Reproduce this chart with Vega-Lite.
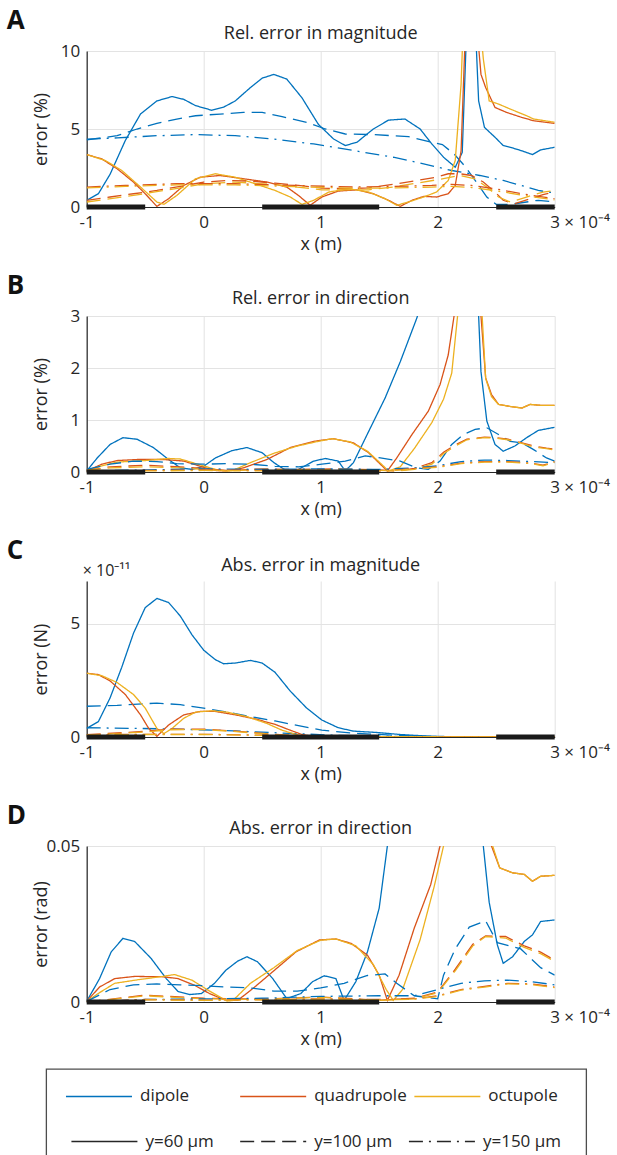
{
"$schema": "https://vega.github.io/schema/vega-lite/v6.json",
"padding": {"left": 6, "top": 8, "right": 0, "bottom": 0},
"align": "each",
"center": true,
"spacing": 20,
"datasets": {
"electrodes": [{"x0": -1, "x1": -0.5}, {"x0": 0.5, "x1": 1.5}, {"x0": 2.5, "x1": 3}],
"legendModels": [{"m": "dipole"}, {"m": "quadrupole"}, {"m": "octupole"}],
"legendDepths": [{"d": "60", "label": "y=60 µm"}, {"d": "100", "label": "y=100 µm"}, {"d": "150", "label": "y=150 µm"}],
"A": [
{"m":"dipole","d":"60","x":-1,"v":0.43},{"m":"dipole","d":"60","x":-0.9,"v":0.85},{"m":"dipole","d":"60","x":-0.8,"v":2.1},{"m":"dipole","d":"60","x":-0.67,"v":4.26},{"m":"dipole","d":"60","x":-0.54,"v":5.96},{"m":"dipole","d":"60","x":-0.4,"v":6.8},{"m":"dipole","d":"60","x":-0.27,"v":7.08},{"m":"dipole","d":"60","x":-0.17,"v":6.9},{"m":"dipole","d":"60","x":-0.07,"v":6.5},{"m":"dipole","d":"60","x":0.07,"v":6.2},{"m":"dipole","d":"60","x":0.17,"v":6.4},{"m":"dipole","d":"60","x":0.27,"v":6.8},{"m":"dipole","d":"60","x":0.4,"v":7.66},{"m":"dipole","d":"60","x":0.5,"v":8.26},{"m":"dipole","d":"60","x":0.6,"v":8.5},{"m":"dipole","d":"60","x":0.71,"v":8.2},{"m":"dipole","d":"60","x":0.84,"v":7.0},{"m":"dipole","d":"60","x":0.98,"v":5.3},{"m":"dipole","d":"60","x":1.11,"v":4.36},{"m":"dipole","d":"60","x":1.21,"v":3.94},{"m":"dipole","d":"60","x":1.31,"v":4.15},{"m":"dipole","d":"60","x":1.45,"v":5.0},{"m":"dipole","d":"60","x":1.58,"v":5.57},{"m":"dipole","d":"60","x":1.72,"v":5.64},{"m":"dipole","d":"60","x":1.85,"v":5.0},{"m":"dipole","d":"60","x":1.95,"v":4.04},{"m":"dipole","d":"60","x":2.05,"v":3.19},{"m":"dipole","d":"60","x":2.15,"v":2.55},{"m":"dipole","d":"60","x":2.21,"v":3.5},{"m":"dipole","d":"60","x":2.25,"v":12},{"m":"dipole","d":"60","x":2.32,"v":12},{"m":"dipole","d":"60","x":2.35,"v":6.8},{"m":"dipole","d":"60","x":2.4,"v":5.1},{"m":"dipole","d":"60","x":2.49,"v":4.47},{"m":"dipole","d":"60","x":2.56,"v":3.94},{"m":"dipole","d":"60","x":2.62,"v":3.83},{"m":"dipole","d":"60","x":2.72,"v":3.6},{"m":"dipole","d":"60","x":2.81,"v":3.36},{"m":"dipole","d":"60","x":2.88,"v":3.66},{"m":"dipole","d":"60","x":3,"v":3.83},
{"m":"dipole","d":"100","x":-1,"v":4.3},{"m":"dipole","d":"100","x":-0.74,"v":4.57},{"m":"dipole","d":"100","x":-0.57,"v":5.0},{"m":"dipole","d":"100","x":-0.4,"v":5.36},{"m":"dipole","d":"100","x":-0.23,"v":5.64},{"m":"dipole","d":"100","x":-0.07,"v":5.85},{"m":"dipole","d":"100","x":0.14,"v":5.96},{"m":"dipole","d":"100","x":0.34,"v":6.06},{"m":"dipole","d":"100","x":0.5,"v":6.06},{"m":"dipole","d":"100","x":0.67,"v":5.79},{"m":"dipole","d":"100","x":0.88,"v":5.43},{"m":"dipole","d":"100","x":1.04,"v":5.0},{"m":"dipole","d":"100","x":1.21,"v":4.68},{"m":"dipole","d":"100","x":1.45,"v":4.64},{"m":"dipole","d":"100","x":1.75,"v":4.51},{"m":"dipole","d":"100","x":1.95,"v":4.15},{"m":"dipole","d":"100","x":2.04,"v":4.0},{"m":"dipole","d":"100","x":2.14,"v":3.4},{"m":"dipole","d":"100","x":2.24,"v":2.55},{"m":"dipole","d":"100","x":2.32,"v":1.7},{"m":"dipole","d":"100","x":2.42,"v":0.64},{"m":"dipole","d":"100","x":2.5,"v":0.17},{"m":"dipole","d":"100","x":2.62,"v":0.17},{"m":"dipole","d":"100","x":2.76,"v":0.32},{"m":"dipole","d":"100","x":2.86,"v":0.43},{"m":"dipole","d":"100","x":3,"v":0.32},
{"m":"dipole","d":"150","x":-1,"v":4.35},{"m":"dipole","d":"150","x":-0.74,"v":4.43},{"m":"dipole","d":"150","x":-0.4,"v":4.57},{"m":"dipole","d":"150","x":-0.07,"v":4.64},{"m":"dipole","d":"150","x":0.27,"v":4.57},{"m":"dipole","d":"150","x":0.6,"v":4.36},{"m":"dipole","d":"150","x":0.94,"v":4.04},{"m":"dipole","d":"150","x":1.28,"v":3.62},{"m":"dipole","d":"150","x":1.62,"v":3.19},{"m":"dipole","d":"150","x":1.88,"v":2.77},{"m":"dipole","d":"150","x":2.12,"v":2.34},{"m":"dipole","d":"150","x":2.36,"v":2.02},{"m":"dipole","d":"150","x":2.56,"v":1.7},{"m":"dipole","d":"150","x":2.76,"v":1.28},{"m":"dipole","d":"150","x":2.86,"v":1.06},{"m":"dipole","d":"150","x":2.95,"v":0.95},{"m":"dipole","d":"150","x":3,"v":0.9},
{"m":"quadrupole","d":"60","x":-1,"v":3.36},{"m":"quadrupole","d":"60","x":-0.87,"v":3.08},{"m":"quadrupole","d":"60","x":-0.74,"v":2.45},{"m":"quadrupole","d":"60","x":-0.6,"v":1.6},{"m":"quadrupole","d":"60","x":-0.5,"v":0.85},{"m":"quadrupole","d":"60","x":-0.4,"v":0.04},{"m":"quadrupole","d":"60","x":-0.3,"v":0.53},{"m":"quadrupole","d":"60","x":-0.17,"v":1.38},{"m":"quadrupole","d":"60","x":-0.03,"v":1.91},{"m":"quadrupole","d":"60","x":0.14,"v":2.02},{"m":"quadrupole","d":"60","x":0.34,"v":1.81},{"m":"quadrupole","d":"60","x":0.54,"v":1.6},{"m":"quadrupole","d":"60","x":0.71,"v":1.28},{"m":"quadrupole","d":"60","x":0.81,"v":0.74},{"m":"quadrupole","d":"60","x":0.91,"v":0.11},{"m":"quadrupole","d":"60","x":1.01,"v":0.64},{"m":"quadrupole","d":"60","x":1.15,"v":1.02},{"m":"quadrupole","d":"60","x":1.31,"v":1.1},{"m":"quadrupole","d":"60","x":1.45,"v":0.85},{"m":"quadrupole","d":"60","x":1.58,"v":0.43},{"m":"quadrupole","d":"60","x":1.68,"v":0.04},{"m":"quadrupole","d":"60","x":1.78,"v":0.43},{"m":"quadrupole","d":"60","x":1.88,"v":0.68},{"m":"quadrupole","d":"60","x":1.99,"v":0.64},{"m":"quadrupole","d":"60","x":2.09,"v":0.85},{"m":"quadrupole","d":"60","x":2.15,"v":1.38},{"m":"quadrupole","d":"60","x":2.2,"v":3.6},{"m":"quadrupole","d":"60","x":2.24,"v":12},{"m":"quadrupole","d":"60","x":2.33,"v":12},{"m":"quadrupole","d":"60","x":2.37,"v":8.5},{"m":"quadrupole","d":"60","x":2.41,"v":7.66},{"m":"quadrupole","d":"60","x":2.49,"v":6.38},{"m":"quadrupole","d":"60","x":2.59,"v":6.06},{"m":"quadrupole","d":"60","x":2.72,"v":5.74},{"m":"quadrupole","d":"60","x":2.82,"v":5.53},{"m":"quadrupole","d":"60","x":3,"v":5.36},
{"m":"octupole","d":"60","x":-1,"v":3.36},{"m":"octupole","d":"60","x":-0.84,"v":2.98},{"m":"octupole","d":"60","x":-0.7,"v":2.34},{"m":"octupole","d":"60","x":-0.54,"v":1.28},{"m":"octupole","d":"60","x":-0.4,"v":0.32},{"m":"octupole","d":"60","x":-0.34,"v":0.17},{"m":"octupole","d":"60","x":-0.23,"v":0.74},{"m":"octupole","d":"60","x":-0.07,"v":1.81},{"m":"octupole","d":"60","x":0.1,"v":2.13},{"m":"octupole","d":"60","x":0.27,"v":1.91},{"m":"octupole","d":"60","x":0.44,"v":1.49},{"m":"octupole","d":"60","x":0.61,"v":1.06},{"m":"octupole","d":"60","x":0.74,"v":0.64},{"m":"octupole","d":"60","x":0.84,"v":0.17},{"m":"octupole","d":"60","x":0.94,"v":0.43},{"m":"octupole","d":"60","x":1.07,"v":0.96},{"m":"octupole","d":"60","x":1.24,"v":1.17},{"m":"octupole","d":"60","x":1.41,"v":0.96},{"m":"octupole","d":"60","x":1.55,"v":0.53},{"m":"octupole","d":"60","x":1.65,"v":0.11},{"m":"octupole","d":"60","x":1.75,"v":0.32},{"m":"octupole","d":"60","x":1.88,"v":0.64},{"m":"octupole","d":"60","x":1.99,"v":0.96},{"m":"octupole","d":"60","x":2.09,"v":1.7},{"m":"octupole","d":"60","x":2.15,"v":2.98},{"m":"octupole","d":"60","x":2.2,"v":7.87},{"m":"octupole","d":"60","x":2.22,"v":12},{"m":"octupole","d":"60","x":2.36,"v":12},{"m":"octupole","d":"60","x":2.39,"v":9.5},{"m":"octupole","d":"60","x":2.44,"v":6.8},{"m":"octupole","d":"60","x":2.52,"v":6.6},{"m":"octupole","d":"60","x":2.62,"v":6.28},{"m":"octupole","d":"60","x":2.76,"v":5.85},{"m":"octupole","d":"60","x":2.82,"v":5.64},{"m":"octupole","d":"60","x":3,"v":5.43},
{"m":"quadrupole","d":"100","x":-1,"v":0.43},{"m":"quadrupole","d":"100","x":-0.8,"v":0.64},{"m":"quadrupole","d":"100","x":-0.6,"v":0.85},{"m":"quadrupole","d":"100","x":-0.4,"v":1.06},{"m":"quadrupole","d":"100","x":-0.2,"v":1.32},{"m":"quadrupole","d":"100","x":0,"v":1.6},{"m":"quadrupole","d":"100","x":0.2,"v":1.7},{"m":"quadrupole","d":"100","x":0.4,"v":1.66},{"m":"quadrupole","d":"100","x":0.61,"v":1.53},{"m":"quadrupole","d":"100","x":0.81,"v":1.38},{"m":"quadrupole","d":"100","x":1.01,"v":1.21},{"m":"quadrupole","d":"100","x":1.21,"v":1.17},{"m":"quadrupole","d":"100","x":1.41,"v":1.23},{"m":"quadrupole","d":"100","x":1.62,"v":1.45},{"m":"quadrupole","d":"100","x":1.82,"v":1.7},{"m":"quadrupole","d":"100","x":1.99,"v":1.91},{"m":"quadrupole","d":"100","x":2.09,"v":2.13},{"m":"quadrupole","d":"100","x":2.19,"v":2.13},{"m":"quadrupole","d":"100","x":2.29,"v":2.02},{"m":"quadrupole","d":"100","x":2.39,"v":1.6},{"m":"quadrupole","d":"100","x":2.49,"v":0.96},{"m":"quadrupole","d":"100","x":2.56,"v":0.43},{"m":"quadrupole","d":"100","x":2.65,"v":0.2},{"m":"quadrupole","d":"100","x":2.79,"v":0.53},{"m":"quadrupole","d":"100","x":2.9,"v":0.8},{"m":"quadrupole","d":"100","x":3,"v":0.96},
{"m":"octupole","d":"100","x":-1,"v":0.32},{"m":"octupole","d":"100","x":-0.6,"v":0.74},{"m":"octupole","d":"100","x":-0.2,"v":1.23},{"m":"octupole","d":"100","x":0,"v":1.49},{"m":"octupole","d":"100","x":0.27,"v":1.6},{"m":"octupole","d":"100","x":0.61,"v":1.43},{"m":"octupole","d":"100","x":1.01,"v":1.1},{"m":"octupole","d":"100","x":1.41,"v":1.1},{"m":"octupole","d":"100","x":1.62,"v":1.28},{"m":"octupole","d":"100","x":1.82,"v":1.53},{"m":"octupole","d":"100","x":1.99,"v":1.74},{"m":"octupole","d":"100","x":2.19,"v":2.02},{"m":"octupole","d":"100","x":2.32,"v":1.81},{"m":"octupole","d":"100","x":2.42,"v":1.28},{"m":"octupole","d":"100","x":2.52,"v":0.64},{"m":"octupole","d":"100","x":2.62,"v":0.32},{"m":"octupole","d":"100","x":2.76,"v":0.64},{"m":"octupole","d":"100","x":2.9,"v":0.96},{"m":"octupole","d":"100","x":3,"v":1.06},
{"m":"quadrupole","d":"150","x":-1,"v":1.28},{"m":"quadrupole","d":"150","x":-0.67,"v":1.38},{"m":"quadrupole","d":"150","x":-0.23,"v":1.49},{"m":"quadrupole","d":"150","x":0.27,"v":1.49},{"m":"quadrupole","d":"150","x":0.78,"v":1.38},{"m":"quadrupole","d":"150","x":1.28,"v":1.28},{"m":"quadrupole","d":"150","x":1.62,"v":1.32},{"m":"quadrupole","d":"150","x":1.95,"v":1.38},{"m":"quadrupole","d":"150","x":2.12,"v":1.45},{"m":"quadrupole","d":"150","x":2.29,"v":1.38},{"m":"quadrupole","d":"150","x":2.49,"v":1.17},{"m":"quadrupole","d":"150","x":2.69,"v":0.89},{"m":"quadrupole","d":"150","x":2.86,"v":0.68},{"m":"quadrupole","d":"150","x":3,"v":0.53},
{"m":"octupole","d":"150","x":-1,"v":1.22},{"m":"octupole","d":"150","x":-0.67,"v":1.32},{"m":"octupole","d":"150","x":-0.23,"v":1.42},{"m":"octupole","d":"150","x":0.27,"v":1.42},{"m":"octupole","d":"150","x":0.78,"v":1.3},{"m":"octupole","d":"150","x":1.28,"v":1.2},{"m":"octupole","d":"150","x":1.62,"v":1.22},{"m":"octupole","d":"150","x":1.95,"v":1.28},{"m":"octupole","d":"150","x":2.12,"v":1.32},{"m":"octupole","d":"150","x":2.29,"v":1.25},{"m":"octupole","d":"150","x":2.49,"v":1.05},{"m":"octupole","d":"150","x":2.69,"v":0.8},{"m":"octupole","d":"150","x":2.86,"v":0.6},{"m":"octupole","d":"150","x":3,"v":0.45}
],
"B": [
{"m":"dipole","d":"60","x":-1,"v":0.02},{"m":"dipole","d":"60","x":-0.91,"v":0.27},{"m":"dipole","d":"60","x":-0.8,"v":0.53},{"m":"dipole","d":"60","x":-0.69,"v":0.66},{"m":"dipole","d":"60","x":-0.57,"v":0.63},{"m":"dipole","d":"60","x":-0.43,"v":0.47},{"m":"dipole","d":"60","x":-0.3,"v":0.24},{"m":"dipole","d":"60","x":-0.2,"v":0.08},{"m":"dipole","d":"60","x":-0.1,"v":0.05},{"m":"dipole","d":"60","x":0,"v":0.11},{"m":"dipole","d":"60","x":0.1,"v":0.27},{"m":"dipole","d":"60","x":0.24,"v":0.41},{"m":"dipole","d":"60","x":0.37,"v":0.47},{"m":"dipole","d":"60","x":0.5,"v":0.37},{"m":"dipole","d":"60","x":0.6,"v":0.18},{"m":"dipole","d":"60","x":0.71,"v":0.02},{"m":"dipole","d":"60","x":0.81,"v":0.05},{"m":"dipole","d":"60","x":0.94,"v":0.21},{"m":"dipole","d":"60","x":1.04,"v":0.26},{"m":"dipole","d":"60","x":1.15,"v":0.21},{"m":"dipole","d":"60","x":1.21,"v":0.02},{"m":"dipole","d":"60","x":1.28,"v":0.18},{"m":"dipole","d":"60","x":1.41,"v":0.78},{"m":"dipole","d":"60","x":1.55,"v":1.42},{"m":"dipole","d":"60","x":1.68,"v":2.12},{"m":"dipole","d":"60","x":1.82,"v":2.95},{"m":"dipole","d":"60","x":2.0,"v":4.2},{"m":"dipole","d":"60","x":2.3,"v":6},{"m":"dipole","d":"60","x":2.34,"v":6},{"m":"dipole","d":"60","x":2.35,"v":3.0},{"m":"dipole","d":"60","x":2.37,"v":1.93},{"m":"dipole","d":"60","x":2.42,"v":0.98},{"m":"dipole","d":"60","x":2.49,"v":0.53},{"m":"dipole","d":"60","x":2.56,"v":0.4},{"m":"dipole","d":"60","x":2.66,"v":0.5},{"m":"dipole","d":"60","x":2.76,"v":0.66},{"m":"dipole","d":"60","x":2.86,"v":0.8},{"m":"dipole","d":"60","x":3,"v":0.86},
{"m":"quadrupole","d":"60","x":-1,"v":0.02},{"m":"quadrupole","d":"60","x":-0.87,"v":0.15},{"m":"quadrupole","d":"60","x":-0.74,"v":0.22},{"m":"quadrupole","d":"60","x":-0.57,"v":0.24},{"m":"quadrupole","d":"60","x":-0.34,"v":0.24},{"m":"quadrupole","d":"60","x":-0.17,"v":0.21},{"m":"quadrupole","d":"60","x":-0.03,"v":0.11},{"m":"quadrupole","d":"60","x":0.1,"v":0.03},{"m":"quadrupole","d":"60","x":0.2,"v":0.02},{"m":"quadrupole","d":"60","x":0.34,"v":0.08},{"m":"quadrupole","d":"60","x":0.54,"v":0.24},{"m":"quadrupole","d":"60","x":0.74,"v":0.47},{"m":"quadrupole","d":"60","x":0.94,"v":0.59},{"m":"quadrupole","d":"60","x":1.11,"v":0.64},{"m":"quadrupole","d":"60","x":1.28,"v":0.56},{"m":"quadrupole","d":"60","x":1.41,"v":0.37},{"m":"quadrupole","d":"60","x":1.51,"v":0.15},{"m":"quadrupole","d":"60","x":1.57,"v":0.02},{"m":"quadrupole","d":"60","x":1.65,"v":0.27},{"m":"quadrupole","d":"60","x":1.78,"v":0.72},{"m":"quadrupole","d":"60","x":1.92,"v":1.17},{"m":"quadrupole","d":"60","x":2.02,"v":1.68},{"m":"quadrupole","d":"60","x":2.09,"v":2.25},{"m":"quadrupole","d":"60","x":2.14,"v":3.0},{"m":"quadrupole","d":"60","x":2.18,"v":6},{"m":"quadrupole","d":"60","x":2.35,"v":6},{"m":"quadrupole","d":"60","x":2.37,"v":3.0},{"m":"quadrupole","d":"60","x":2.41,"v":1.81},{"m":"quadrupole","d":"60","x":2.46,"v":1.49},{"m":"quadrupole","d":"60","x":2.52,"v":1.3},{"m":"quadrupole","d":"60","x":2.62,"v":1.26},{"m":"quadrupole","d":"60","x":2.72,"v":1.23},{"m":"quadrupole","d":"60","x":2.79,"v":1.3},{"m":"quadrupole","d":"60","x":2.89,"v":1.28},{"m":"quadrupole","d":"60","x":3,"v":1.28},
{"m":"octupole","d":"60","x":-1,"v":0.02},{"m":"octupole","d":"60","x":-0.87,"v":0.12},{"m":"octupole","d":"60","x":-0.74,"v":0.19},{"m":"octupole","d":"60","x":-0.5,"v":0.22},{"m":"octupole","d":"60","x":-0.3,"v":0.26},{"m":"octupole","d":"60","x":-0.2,"v":0.25},{"m":"octupole","d":"60","x":-0.05,"v":0.15},{"m":"octupole","d":"60","x":0.1,"v":0.05},{"m":"octupole","d":"60","x":0.2,"v":0.02},{"m":"octupole","d":"60","x":0.25,"v":0.03},{"m":"octupole","d":"60","x":0.4,"v":0.18},{"m":"octupole","d":"60","x":0.6,"v":0.36},{"m":"octupole","d":"60","x":0.8,"v":0.5},{"m":"octupole","d":"60","x":1.0,"v":0.6},{"m":"octupole","d":"60","x":1.1,"v":0.64},{"m":"octupole","d":"60","x":1.25,"v":0.58},{"m":"octupole","d":"60","x":1.4,"v":0.4},{"m":"octupole","d":"60","x":1.52,"v":0.15},{"m":"octupole","d":"60","x":1.58,"v":0.02},{"m":"octupole","d":"60","x":1.68,"v":0.1},{"m":"octupole","d":"60","x":1.8,"v":0.45},{"m":"octupole","d":"60","x":1.95,"v":0.95},{"m":"octupole","d":"60","x":2.05,"v":1.4},{"m":"octupole","d":"60","x":2.12,"v":1.9},{"m":"octupole","d":"60","x":2.17,"v":3.0},{"m":"octupole","d":"60","x":2.2,"v":6},{"m":"octupole","d":"60","x":2.36,"v":6},{"m":"octupole","d":"60","x":2.38,"v":3.0},{"m":"octupole","d":"60","x":2.41,"v":1.8},{"m":"octupole","d":"60","x":2.46,"v":1.45},{"m":"octupole","d":"60","x":2.52,"v":1.3},{"m":"octupole","d":"60","x":2.62,"v":1.26},{"m":"octupole","d":"60","x":2.72,"v":1.23},{"m":"octupole","d":"60","x":2.79,"v":1.3},{"m":"octupole","d":"60","x":2.89,"v":1.28},{"m":"octupole","d":"60","x":3,"v":1.28},
{"m":"dipole","d":"100","x":-1,"v":0.05},{"m":"dipole","d":"100","x":-0.8,"v":0.15},{"m":"dipole","d":"100","x":-0.6,"v":0.21},{"m":"dipole","d":"100","x":-0.4,"v":0.2},{"m":"dipole","d":"100","x":-0.23,"v":0.16},{"m":"dipole","d":"100","x":0,"v":0.15},{"m":"dipole","d":"100","x":0.2,"v":0.16},{"m":"dipole","d":"100","x":0.4,"v":0.15},{"m":"dipole","d":"100","x":0.61,"v":0.11},{"m":"dipole","d":"100","x":0.81,"v":0.1},{"m":"dipole","d":"100","x":1.01,"v":0.15},{"m":"dipole","d":"100","x":1.21,"v":0.21},{"m":"dipole","d":"100","x":1.38,"v":0.31},{"m":"dipole","d":"100","x":1.51,"v":0.27},{"m":"dipole","d":"100","x":1.68,"v":0.21},{"m":"dipole","d":"100","x":1.82,"v":0.08},{"m":"dipole","d":"100","x":1.92,"v":0.05},{"m":"dipole","d":"100","x":2.02,"v":0.21},{"m":"dipole","d":"100","x":2.12,"v":0.53},{"m":"dipole","d":"100","x":2.22,"v":0.72},{"m":"dipole","d":"100","x":2.32,"v":0.82},{"m":"dipole","d":"100","x":2.42,"v":0.85},{"m":"dipole","d":"100","x":2.52,"v":0.72},{"m":"dipole","d":"100","x":2.62,"v":0.59},{"m":"dipole","d":"100","x":2.72,"v":0.56},{"m":"dipole","d":"100","x":2.82,"v":0.43},{"m":"dipole","d":"100","x":2.93,"v":0.27},{"m":"dipole","d":"100","x":3,"v":0.21},
{"m":"quadrupole","d":"100","x":-1,"v":0.03},{"m":"quadrupole","d":"100","x":-0.8,"v":0.1},{"m":"quadrupole","d":"100","x":-0.5,"v":0.13},{"m":"quadrupole","d":"100","x":-0.2,"v":0.1},{"m":"quadrupole","d":"100","x":0.2,"v":0.03},{"m":"quadrupole","d":"100","x":0.5,"v":0.06},{"m":"quadrupole","d":"100","x":0.8,"v":0.05},{"m":"quadrupole","d":"100","x":1.2,"v":0.06},{"m":"quadrupole","d":"100","x":1.5,"v":0.04},{"m":"quadrupole","d":"100","x":1.65,"v":0.02},{"m":"quadrupole","d":"100","x":1.8,"v":0.07},{"m":"quadrupole","d":"100","x":1.95,"v":0.18},{"m":"quadrupole","d":"100","x":2.05,"v":0.38},{"m":"quadrupole","d":"100","x":2.15,"v":0.52},{"m":"quadrupole","d":"100","x":2.25,"v":0.63},{"m":"quadrupole","d":"100","x":2.4,"v":0.67},{"m":"quadrupole","d":"100","x":2.5,"v":0.66},{"m":"quadrupole","d":"100","x":2.6,"v":0.63},{"m":"quadrupole","d":"100","x":2.72,"v":0.56},{"m":"quadrupole","d":"100","x":2.82,"v":0.5},{"m":"quadrupole","d":"100","x":2.93,"v":0.46},{"m":"quadrupole","d":"100","x":3,"v":0.44},
{"m":"octupole","d":"100","x":-1,"v":0.03},{"m":"octupole","d":"100","x":-0.8,"v":0.08},{"m":"octupole","d":"100","x":-0.5,"v":0.1},{"m":"octupole","d":"100","x":-0.2,"v":0.08},{"m":"octupole","d":"100","x":0.2,"v":0.02},{"m":"octupole","d":"100","x":0.5,"v":0.05},{"m":"octupole","d":"100","x":0.8,"v":0.04},{"m":"octupole","d":"100","x":1.2,"v":0.05},{"m":"octupole","d":"100","x":1.5,"v":0.03},{"m":"octupole","d":"100","x":1.65,"v":0.02},{"m":"octupole","d":"100","x":1.8,"v":0.05},{"m":"octupole","d":"100","x":1.95,"v":0.15},{"m":"octupole","d":"100","x":2.05,"v":0.35},{"m":"octupole","d":"100","x":2.15,"v":0.5},{"m":"octupole","d":"100","x":2.25,"v":0.62},{"m":"octupole","d":"100","x":2.4,"v":0.66},{"m":"octupole","d":"100","x":2.5,"v":0.65},{"m":"octupole","d":"100","x":2.6,"v":0.62},{"m":"octupole","d":"100","x":2.72,"v":0.55},{"m":"octupole","d":"100","x":2.82,"v":0.48},{"m":"octupole","d":"100","x":2.93,"v":0.45},{"m":"octupole","d":"100","x":3,"v":0.42},
{"m":"dipole","d":"150","x":-1,"v":0.02},{"m":"dipole","d":"150","x":-0.5,"v":0.04},{"m":"dipole","d":"150","x":0,"v":0.06},{"m":"dipole","d":"150","x":0.5,"v":0.05},{"m":"dipole","d":"150","x":1.0,"v":0.06},{"m":"dipole","d":"150","x":1.5,"v":0.05},{"m":"dipole","d":"150","x":1.8,"v":0.08},{"m":"dipole","d":"150","x":2.0,"v":0.12},{"m":"dipole","d":"150","x":2.2,"v":0.2},{"m":"dipole","d":"150","x":2.4,"v":0.23},{"m":"dipole","d":"150","x":2.6,"v":0.22},{"m":"dipole","d":"150","x":2.8,"v":0.2},{"m":"dipole","d":"150","x":3,"v":0.18},
{"m":"quadrupole","d":"150","x":-1,"v":0.01},{"m":"quadrupole","d":"150","x":-0.5,"v":0.03},{"m":"quadrupole","d":"150","x":0,"v":0.04},{"m":"quadrupole","d":"150","x":0.5,"v":0.03},{"m":"quadrupole","d":"150","x":1.0,"v":0.03},{"m":"quadrupole","d":"150","x":1.5,"v":0.02},{"m":"quadrupole","d":"150","x":1.7,"v":0.05},{"m":"quadrupole","d":"150","x":2.0,"v":0.1},{"m":"quadrupole","d":"150","x":2.2,"v":0.17},{"m":"quadrupole","d":"150","x":2.4,"v":0.2},{"m":"quadrupole","d":"150","x":2.6,"v":0.2},{"m":"quadrupole","d":"150","x":2.8,"v":0.17},{"m":"quadrupole","d":"150","x":2.9,"v":0.13},{"m":"quadrupole","d":"150","x":3,"v":0.2},
{"m":"octupole","d":"150","x":-1,"v":0.01},{"m":"octupole","d":"150","x":-0.5,"v":0.02},{"m":"octupole","d":"150","x":0,"v":0.03},{"m":"octupole","d":"150","x":0.5,"v":0.02},{"m":"octupole","d":"150","x":1.0,"v":0.02},{"m":"octupole","d":"150","x":1.5,"v":0.02},{"m":"octupole","d":"150","x":1.7,"v":0.04},{"m":"octupole","d":"150","x":2.0,"v":0.09},{"m":"octupole","d":"150","x":2.2,"v":0.16},{"m":"octupole","d":"150","x":2.4,"v":0.19},{"m":"octupole","d":"150","x":2.6,"v":0.19},{"m":"octupole","d":"150","x":2.8,"v":0.16},{"m":"octupole","d":"150","x":2.9,"v":0.12},{"m":"octupole","d":"150","x":3,"v":0.19}
],
"C": [
{"m":"dipole","d":"60","x":-1,"v":0.38},{"m":"dipole","d":"60","x":-0.9,"v":0.68},{"m":"dipole","d":"60","x":-0.8,"v":1.73},{"m":"dipole","d":"60","x":-0.7,"v":3.09},{"m":"dipole","d":"60","x":-0.6,"v":4.59},{"m":"dipole","d":"60","x":-0.5,"v":5.72},{"m":"dipole","d":"60","x":-0.4,"v":6.13},{"m":"dipole","d":"60","x":-0.3,"v":5.95},{"m":"dipole","d":"60","x":-0.2,"v":5.35},{"m":"dipole","d":"60","x":-0.1,"v":4.52},{"m":"dipole","d":"60","x":0,"v":3.84},{"m":"dipole","d":"60","x":0.1,"v":3.42},{"m":"dipole","d":"60","x":0.17,"v":3.24},{"m":"dipole","d":"60","x":0.27,"v":3.27},{"m":"dipole","d":"60","x":0.4,"v":3.39},{"m":"dipole","d":"60","x":0.5,"v":3.27},{"m":"dipole","d":"60","x":0.61,"v":2.86},{"m":"dipole","d":"60","x":0.74,"v":2.03},{"m":"dipole","d":"60","x":0.88,"v":1.28},{"m":"dipole","d":"60","x":1.01,"v":0.75},{"m":"dipole","d":"60","x":1.15,"v":0.41},{"m":"dipole","d":"60","x":1.28,"v":0.26},{"m":"dipole","d":"60","x":1.48,"v":0.2},{"m":"dipole","d":"60","x":1.68,"v":0.11},{"m":"dipole","d":"60","x":1.95,"v":0.03},{"m":"dipole","d":"60","x":2.3,"v":0},{"m":"dipole","d":"60","x":3,"v":0},
{"m":"dipole","d":"100","x":-1,"v":1.36},{"m":"dipole","d":"100","x":-0.74,"v":1.4},{"m":"dipole","d":"100","x":-0.4,"v":1.5},{"m":"dipole","d":"100","x":-0.2,"v":1.43},{"m":"dipole","d":"100","x":0,"v":1.28},{"m":"dipole","d":"100","x":0.2,"v":1.1},{"m":"dipole","d":"100","x":0.4,"v":0.9},{"m":"dipole","d":"100","x":0.61,"v":0.71},{"m":"dipole","d":"100","x":0.81,"v":0.5},{"m":"dipole","d":"100","x":1.01,"v":0.3},{"m":"dipole","d":"100","x":1.28,"v":0.17},{"m":"dipole","d":"100","x":1.62,"v":0.08},{"m":"dipole","d":"100","x":1.95,"v":0.02},{"m":"dipole","d":"100","x":3,"v":0},
{"m":"dipole","d":"150","x":-1,"v":0.41},{"m":"dipole","d":"150","x":-0.57,"v":0.38},{"m":"dipole","d":"150","x":-0.23,"v":0.35},{"m":"dipole","d":"150","x":0.1,"v":0.3},{"m":"dipole","d":"150","x":0.44,"v":0.23},{"m":"dipole","d":"150","x":0.78,"v":0.15},{"m":"dipole","d":"150","x":1.11,"v":0.08},{"m":"dipole","d":"150","x":1.62,"v":0.03},{"m":"dipole","d":"150","x":3,"v":0},
{"m":"quadrupole","d":"60","x":-1,"v":2.82},{"m":"quadrupole","d":"60","x":-0.9,"v":2.76},{"m":"quadrupole","d":"60","x":-0.8,"v":2.48},{"m":"quadrupole","d":"60","x":-0.67,"v":1.88},{"m":"quadrupole","d":"60","x":-0.54,"v":0.98},{"m":"quadrupole","d":"60","x":-0.47,"v":0.38},{"m":"quadrupole","d":"60","x":-0.4,"v":0.03},{"m":"quadrupole","d":"60","x":-0.3,"v":0.53},{"m":"quadrupole","d":"60","x":-0.17,"v":0.98},{"m":"quadrupole","d":"60","x":-0.03,"v":1.13},{"m":"quadrupole","d":"60","x":0.1,"v":1.13},{"m":"quadrupole","d":"60","x":0.27,"v":0.98},{"m":"quadrupole","d":"60","x":0.44,"v":0.8},{"m":"quadrupole","d":"60","x":0.61,"v":0.56},{"m":"quadrupole","d":"60","x":0.74,"v":0.3},{"m":"quadrupole","d":"60","x":0.84,"v":0.11},{"m":"quadrupole","d":"60","x":0.94,"v":0.02},{"m":"quadrupole","d":"60","x":2,"v":0},{"m":"quadrupole","d":"60","x":3,"v":0},
{"m":"octupole","d":"60","x":-1,"v":2.82},{"m":"octupole","d":"60","x":-0.87,"v":2.71},{"m":"octupole","d":"60","x":-0.74,"v":2.41},{"m":"octupole","d":"60","x":-0.6,"v":1.88},{"m":"octupole","d":"60","x":-0.5,"v":1.28},{"m":"octupole","d":"60","x":-0.4,"v":0.38},{"m":"octupole","d":"60","x":-0.34,"v":0.15},{"m":"octupole","d":"60","x":-0.27,"v":0.38},{"m":"octupole","d":"60","x":-0.17,"v":0.83},{"m":"octupole","d":"60","x":-0.07,"v":1.1},{"m":"octupole","d":"60","x":0.07,"v":1.16},{"m":"octupole","d":"60","x":0.2,"v":1.1},{"m":"octupole","d":"60","x":0.37,"v":0.9},{"m":"octupole","d":"60","x":0.54,"v":0.6},{"m":"octupole","d":"60","x":0.67,"v":0.3},{"m":"octupole","d":"60","x":0.81,"v":0.08},{"m":"octupole","d":"60","x":0.94,"v":0.02},{"m":"octupole","d":"60","x":2,"v":0.01},{"m":"octupole","d":"60","x":3,"v":0},
{"m":"quadrupole","d":"100","x":-1,"v":0.1},{"m":"quadrupole","d":"100","x":-0.5,"v":0.25},{"m":"quadrupole","d":"100","x":-0.3,"v":0.35},{"m":"quadrupole","d":"100","x":0,"v":0.35},{"m":"quadrupole","d":"100","x":0.3,"v":0.25},{"m":"quadrupole","d":"100","x":0.6,"v":0.12},{"m":"quadrupole","d":"100","x":1.0,"v":0.02},{"m":"quadrupole","d":"100","x":3,"v":0},
{"m":"octupole","d":"100","x":-1,"v":0.08},{"m":"octupole","d":"100","x":-0.5,"v":0.22},{"m":"octupole","d":"100","x":-0.3,"v":0.32},{"m":"octupole","d":"100","x":0,"v":0.33},{"m":"octupole","d":"100","x":0.3,"v":0.23},{"m":"octupole","d":"100","x":0.6,"v":0.1},{"m":"octupole","d":"100","x":1.0,"v":0.02},{"m":"octupole","d":"100","x":3,"v":0},
{"m":"quadrupole","d":"150","x":-1,"v":0.1},{"m":"quadrupole","d":"150","x":-0.5,"v":0.12},{"m":"quadrupole","d":"150","x":0,"v":0.12},{"m":"quadrupole","d":"150","x":0.5,"v":0.08},{"m":"quadrupole","d":"150","x":1.0,"v":0.02},{"m":"quadrupole","d":"150","x":3,"v":0},
{"m":"octupole","d":"150","x":-1,"v":0.09},{"m":"octupole","d":"150","x":-0.5,"v":0.11},{"m":"octupole","d":"150","x":0,"v":0.11},{"m":"octupole","d":"150","x":0.5,"v":0.07},{"m":"octupole","d":"150","x":1.0,"v":0.02},{"m":"octupole","d":"150","x":3,"v":0}
],
"D": [
{"m":"dipole","d":"60","x":-1,"v":0.0002},{"m":"dipole","d":"60","x":-0.89,"v":0.0075},{"m":"dipole","d":"60","x":-0.79,"v":0.0161},{"m":"dipole","d":"60","x":-0.69,"v":0.0204},{"m":"dipole","d":"60","x":-0.59,"v":0.0194},{"m":"dipole","d":"60","x":-0.45,"v":0.014},{"m":"dipole","d":"60","x":-0.32,"v":0.0075},{"m":"dipole","d":"60","x":-0.22,"v":0.0034},{"m":"dipole","d":"60","x":-0.12,"v":0.0024},{"m":"dipole","d":"60","x":-0.02,"v":0.0027},{"m":"dipole","d":"60","x":0.09,"v":0.0059},{"m":"dipole","d":"60","x":0.19,"v":0.0102},{"m":"dipole","d":"60","x":0.29,"v":0.0131},{"m":"dipole","d":"60","x":0.37,"v":0.0145},{"m":"dipole","d":"60","x":0.46,"v":0.0129},{"m":"dipole","d":"60","x":0.59,"v":0.0075},{"m":"dipole","d":"60","x":0.71,"v":0.0011},{"m":"dipole","d":"60","x":0.83,"v":0.0027},{"m":"dipole","d":"60","x":0.93,"v":0.0065},{"m":"dipole","d":"60","x":1.03,"v":0.0084},{"m":"dipole","d":"60","x":1.13,"v":0.0075},{"m":"dipole","d":"60","x":1.2,"v":0.0005},{"m":"dipole","d":"60","x":1.3,"v":0.0065},{"m":"dipole","d":"60","x":1.4,"v":0.0161},{"m":"dipole","d":"60","x":1.5,"v":0.0301},{"m":"dipole","d":"60","x":1.57,"v":0.05},{"m":"dipole","d":"60","x":1.65,"v":0.07},{"m":"dipole","d":"60","x":2.35,"v":0.07},{"m":"dipole","d":"60","x":2.39,"v":0.05},{"m":"dipole","d":"60","x":2.44,"v":0.032},{"m":"dipole","d":"60","x":2.51,"v":0.0183},{"m":"dipole","d":"60","x":2.56,"v":0.0124},{"m":"dipole","d":"60","x":2.64,"v":0.0145},{"m":"dipole","d":"60","x":2.74,"v":0.0194},{"m":"dipole","d":"60","x":2.81,"v":0.0215},{"m":"dipole","d":"60","x":2.88,"v":0.0258},{"m":"dipole","d":"60","x":3,"v":0.0263},
{"m":"quadrupole","d":"60","x":-1,"v":0.0002},{"m":"quadrupole","d":"60","x":-0.89,"v":0.0048},{"m":"quadrupole","d":"60","x":-0.76,"v":0.0075},{"m":"quadrupole","d":"60","x":-0.59,"v":0.0082},{"m":"quadrupole","d":"60","x":-0.35,"v":0.0081},{"m":"quadrupole","d":"60","x":-0.22,"v":0.0075},{"m":"quadrupole","d":"60","x":-0.08,"v":0.0054},{"m":"quadrupole","d":"60","x":0.05,"v":0.0027},{"m":"quadrupole","d":"60","x":0.19,"v":0.0005},{"m":"quadrupole","d":"60","x":0.29,"v":0.0005},{"m":"quadrupole","d":"60","x":0.42,"v":0.0043},{"m":"quadrupole","d":"60","x":0.59,"v":0.0097},{"m":"quadrupole","d":"60","x":0.79,"v":0.0161},{"m":"quadrupole","d":"60","x":0.99,"v":0.0199},{"m":"quadrupole","d":"60","x":1.13,"v":0.0202},{"m":"quadrupole","d":"60","x":1.26,"v":0.0188},{"m":"quadrupole","d":"60","x":1.4,"v":0.015},{"m":"quadrupole","d":"60","x":1.5,"v":0.0086},{"m":"quadrupole","d":"60","x":1.57,"v":0.0005},{"m":"quadrupole","d":"60","x":1.67,"v":0.0086},{"m":"quadrupole","d":"60","x":1.8,"v":0.0237},{"m":"quadrupole","d":"60","x":1.94,"v":0.0376},{"m":"quadrupole","d":"60","x":2.02,"v":0.05},{"m":"quadrupole","d":"60","x":2.08,"v":0.07},{"m":"quadrupole","d":"60","x":2.42,"v":0.07},{"m":"quadrupole","d":"60","x":2.46,"v":0.05},{"m":"quadrupole","d":"60","x":2.53,"v":0.043},{"m":"quadrupole","d":"60","x":2.64,"v":0.0414},{"m":"quadrupole","d":"60","x":2.74,"v":0.0409},{"m":"quadrupole","d":"60","x":2.81,"v":0.0387},{"m":"quadrupole","d":"60","x":2.88,"v":0.0403},{"m":"quadrupole","d":"60","x":3,"v":0.0406},
{"m":"octupole","d":"60","x":-1,"v":0.0002},{"m":"octupole","d":"60","x":-0.89,"v":0.003},{"m":"octupole","d":"60","x":-0.76,"v":0.006},{"m":"octupole","d":"60","x":-0.55,"v":0.0072},{"m":"octupole","d":"60","x":-0.35,"v":0.0082},{"m":"octupole","d":"60","x":-0.25,"v":0.0088},{"m":"octupole","d":"60","x":-0.1,"v":0.007},{"m":"octupole","d":"60","x":0.05,"v":0.0035},{"m":"octupole","d":"60","x":0.2,"v":0.0003},{"m":"octupole","d":"60","x":0.25,"v":0.0005},{"m":"octupole","d":"60","x":0.4,"v":0.006},{"m":"octupole","d":"60","x":0.6,"v":0.011},{"m":"octupole","d":"60","x":0.8,"v":0.0165},{"m":"octupole","d":"60","x":1.0,"v":0.0198},{"m":"octupole","d":"60","x":1.13,"v":0.0202},{"m":"octupole","d":"60","x":1.3,"v":0.018},{"m":"octupole","d":"60","x":1.45,"v":0.012},{"m":"octupole","d":"60","x":1.56,"v":0.004},{"m":"octupole","d":"60","x":1.62,"v":0.0005},{"m":"octupole","d":"60","x":1.7,"v":0.004},{"m":"octupole","d":"60","x":1.85,"v":0.02},{"m":"octupole","d":"60","x":1.97,"v":0.037},{"m":"octupole","d":"60","x":2.05,"v":0.05},{"m":"octupole","d":"60","x":2.1,"v":0.07},{"m":"octupole","d":"60","x":2.43,"v":0.07},{"m":"octupole","d":"60","x":2.47,"v":0.05},{"m":"octupole","d":"60","x":2.53,"v":0.043},{"m":"octupole","d":"60","x":2.64,"v":0.0414},{"m":"octupole","d":"60","x":2.74,"v":0.0409},{"m":"octupole","d":"60","x":2.81,"v":0.0387},{"m":"octupole","d":"60","x":2.88,"v":0.0403},{"m":"octupole","d":"60","x":3,"v":0.0406},
{"m":"dipole","d":"100","x":-1,"v":0.0002},{"m":"dipole","d":"100","x":-0.8,"v":0.004},{"m":"dipole","d":"100","x":-0.6,"v":0.0055},{"m":"dipole","d":"100","x":-0.4,"v":0.0058},{"m":"dipole","d":"100","x":-0.2,"v":0.0055},{"m":"dipole","d":"100","x":0,"v":0.0052},{"m":"dipole","d":"100","x":0.2,"v":0.0048},{"m":"dipole","d":"100","x":0.4,"v":0.0045},{"m":"dipole","d":"100","x":0.6,"v":0.0035},{"m":"dipole","d":"100","x":0.8,"v":0.0035},{"m":"dipole","d":"100","x":1.0,"v":0.0045},{"m":"dipole","d":"100","x":1.2,"v":0.006},{"m":"dipole","d":"100","x":1.4,"v":0.0085},{"m":"dipole","d":"100","x":1.55,"v":0.009},{"m":"dipole","d":"100","x":1.65,"v":0.006},{"m":"dipole","d":"100","x":1.8,"v":0.002},{"m":"dipole","d":"100","x":2.0,"v":0.001},{"m":"dipole","d":"100","x":2.05,"v":0.0086},{"m":"dipole","d":"100","x":2.15,"v":0.017},{"m":"dipole","d":"100","x":2.27,"v":0.024},{"m":"dipole","d":"100","x":2.41,"v":0.026},{"m":"dipole","d":"100","x":2.51,"v":0.019},{"m":"dipole","d":"100","x":2.71,"v":0.017},{"m":"dipole","d":"100","x":2.88,"v":0.011},{"m":"dipole","d":"100","x":3,"v":0.0086},
{"m":"quadrupole","d":"100","x":-1,"v":0},{"m":"quadrupole","d":"100","x":-0.5,"v":0.0022},{"m":"quadrupole","d":"100","x":0,"v":0.0012},{"m":"quadrupole","d":"100","x":0.5,"v":0.0009},{"m":"quadrupole","d":"100","x":1.0,"v":0.0016},{"m":"quadrupole","d":"100","x":1.5,"v":0.0006},{"m":"quadrupole","d":"100","x":1.8,"v":0.0012},{"m":"quadrupole","d":"100","x":2.0,"v":0.0032},{"m":"quadrupole","d":"100","x":2.15,"v":0.0105},{"m":"quadrupole","d":"100","x":2.3,"v":0.0185},{"m":"quadrupole","d":"100","x":2.41,"v":0.0212},{"m":"quadrupole","d":"100","x":2.58,"v":0.021},{"m":"quadrupole","d":"100","x":2.74,"v":0.018},{"m":"quadrupole","d":"100","x":2.88,"v":0.016},{"m":"quadrupole","d":"100","x":3,"v":0.0134},
{"m":"octupole","d":"100","x":-1,"v":0},{"m":"octupole","d":"100","x":-0.5,"v":0.002},{"m":"octupole","d":"100","x":0,"v":0.001},{"m":"octupole","d":"100","x":0.5,"v":0.0008},{"m":"octupole","d":"100","x":1.0,"v":0.0015},{"m":"octupole","d":"100","x":1.5,"v":0.0005},{"m":"octupole","d":"100","x":1.8,"v":0.001},{"m":"octupole","d":"100","x":2.0,"v":0.003},{"m":"octupole","d":"100","x":2.15,"v":0.01},{"m":"octupole","d":"100","x":2.3,"v":0.018},{"m":"octupole","d":"100","x":2.41,"v":0.021},{"m":"octupole","d":"100","x":2.58,"v":0.0205},{"m":"octupole","d":"100","x":2.74,"v":0.0175},{"m":"octupole","d":"100","x":2.88,"v":0.0155},{"m":"octupole","d":"100","x":3,"v":0.013},
{"m":"dipole","d":"150","x":-1,"v":0},{"m":"dipole","d":"150","x":-0.5,"v":0.0008},{"m":"dipole","d":"150","x":0,"v":0.001},{"m":"dipole","d":"150","x":0.5,"v":0.0012},{"m":"dipole","d":"150","x":1.0,"v":0.0018},{"m":"dipole","d":"150","x":1.5,"v":0.002},{"m":"dipole","d":"150","x":1.8,"v":0.002},{"m":"dipole","d":"150","x":2.0,"v":0.004},{"m":"dipole","d":"150","x":2.2,"v":0.006},{"m":"dipole","d":"150","x":2.4,"v":0.0068},{"m":"dipole","d":"150","x":2.6,"v":0.007},{"m":"dipole","d":"150","x":2.8,"v":0.0065},{"m":"dipole","d":"150","x":3,"v":0.0055},
{"m":"quadrupole","d":"150","x":-1,"v":0},{"m":"quadrupole","d":"150","x":-0.5,"v":0.0008},{"m":"quadrupole","d":"150","x":0,"v":0.0006},{"m":"quadrupole","d":"150","x":0.5,"v":0.0008},{"m":"quadrupole","d":"150","x":1.0,"v":0.001},{"m":"quadrupole","d":"150","x":1.5,"v":0.0008},{"m":"quadrupole","d":"150","x":1.8,"v":0.001},{"m":"quadrupole","d":"150","x":2.0,"v":0.002},{"m":"quadrupole","d":"150","x":2.2,"v":0.004},{"m":"quadrupole","d":"150","x":2.4,"v":0.005},{"m":"quadrupole","d":"150","x":2.6,"v":0.006},{"m":"quadrupole","d":"150","x":2.8,"v":0.0058},{"m":"quadrupole","d":"150","x":3,"v":0.0048},
{"m":"octupole","d":"150","x":-1,"v":0},{"m":"octupole","d":"150","x":-0.5,"v":0.0007},{"m":"octupole","d":"150","x":0,"v":0.0005},{"m":"octupole","d":"150","x":0.5,"v":0.0007},{"m":"octupole","d":"150","x":1.0,"v":0.0009},{"m":"octupole","d":"150","x":1.5,"v":0.0007},{"m":"octupole","d":"150","x":1.8,"v":0.0009},{"m":"octupole","d":"150","x":2.0,"v":0.0018},{"m":"octupole","d":"150","x":2.2,"v":0.0038},{"m":"octupole","d":"150","x":2.4,"v":0.0048},{"m":"octupole","d":"150","x":2.6,"v":0.0058},{"m":"octupole","d":"150","x":2.8,"v":0.0056},{"m":"octupole","d":"150","x":3,"v":0.0046}
]
},
"vconcat": [
{
"width": 468, "height": 156,
"data": {"name": "A"},
"layer": [
{"mark": {"type": "line", "clip": true, "strokeWidth": 1.3},
 "encoding": {
  "x": {"field": "x", "type": "quantitative", "scale": {"domain": [-1, 3], "nice": false, "zero": false}, "axis": {"values": [-1, 0, 1, 2, 3], "title": "x (m)", "labelFlush": false, "labelOverlap": false, "labelExpr": "datum.value === 3 ? '3 × 10⁻⁴' : datum.value === -1 ? '-1' : format(datum.value, 'd')", "labelAlign": {"condition": {"test": "datum.value === 3", "value": "left"}, "value": "center"}, "labelOffset": {"condition": {"test": "datum.value === 3", "value": -5}, "value": 0}}},
  "y": {"field": "v", "type": "quantitative", "scale": {"domain": [0, 10], "nice": false}, "axis": {"values": [0, 5, 10], "title": "error (%)", "titleX": -36}},
  "color": {"field": "m", "type": "nominal", "scale": {"domain": ["dipole", "quadrupole", "octupole"], "range": ["#0072BD", "#D95319", "#EDB120"]}},
  "strokeDash": {"field": "d", "type": "nominal", "scale": {"domain": ["60", "100", "150"], "range": [[1, 0], [14, 7], [14, 6, 2, 6]]}}
 }},
{"data": {"name": "electrodes"}, "mark": {"type": "rule", "strokeWidth": 5, "color": "#1a1a1a", "strokeCap": "butt"},
 "encoding": {"x": {"field": "x0", "type": "quantitative"}, "x2": {"field": "x1"}, "y": {"datum": 0}}},
{"data": {"values": [{"t": "Rel. error in magnitude"}]}, "mark": {"type": "text", "align": "center", "baseline": "middle", "dy": -17, "fontSize": 18, "color": "#262626"},
 "encoding": {"x": {"datum": 1}, "y": {"datum": 10}, "text": {"field": "t"}}},
{"data": {"values": [{"t": "A"}]}, "mark": {"type": "text", "align": "left", "baseline": "alphabetic", "dx": -80, "dy": -22, "fontSize": 26, "fontWeight": "bold", "color": "#111111"},
 "encoding": {"x": {"datum": -1}, "y": {"datum": 10}, "text": {"field": "t"}}}
]
},
{
"width": 468, "height": 156,
"data": {"name": "B"},
"layer": [
{"mark": {"type": "line", "clip": true, "strokeWidth": 1.3},
 "encoding": {
  "x": {"field": "x", "type": "quantitative", "scale": {"domain": [-1, 3], "nice": false, "zero": false}, "axis": {"values": [-1, 0, 1, 2, 3], "title": "x (m)", "labelFlush": false, "labelOverlap": false, "labelExpr": "datum.value === 3 ? '3 × 10⁻⁴' : datum.value === -1 ? '-1' : format(datum.value, 'd')", "labelAlign": {"condition": {"test": "datum.value === 3", "value": "left"}, "value": "center"}, "labelOffset": {"condition": {"test": "datum.value === 3", "value": -5}, "value": 0}}},
  "y": {"field": "v", "type": "quantitative", "scale": {"domain": [0, 3], "nice": false}, "axis": {"values": [0, 1, 2, 3], "title": "error (%)", "titleX": -36}},
  "color": {"field": "m", "type": "nominal", "scale": {"domain": ["dipole", "quadrupole", "octupole"], "range": ["#0072BD", "#D95319", "#EDB120"]}},
  "strokeDash": {"field": "d", "type": "nominal", "scale": {"domain": ["60", "100", "150"], "range": [[1, 0], [14, 7], [14, 6, 2, 6]]}}
 }},
{"data": {"name": "electrodes"}, "mark": {"type": "rule", "strokeWidth": 5, "color": "#1a1a1a", "strokeCap": "butt"},
 "encoding": {"x": {"field": "x0", "type": "quantitative"}, "x2": {"field": "x1"}, "y": {"datum": 0}}},
{"data": {"values": [{"t": "Rel. error in direction"}]}, "mark": {"type": "text", "align": "center", "baseline": "middle", "dy": -17, "fontSize": 18, "color": "#262626"},
 "encoding": {"x": {"datum": 1}, "y": {"datum": 3}, "text": {"field": "t"}}},
{"data": {"values": [{"t": "B"}]}, "mark": {"type": "text", "align": "left", "baseline": "alphabetic", "dx": -80, "dy": -22, "fontSize": 26, "fontWeight": "bold", "color": "#111111"},
 "encoding": {"x": {"datum": -1}, "y": {"datum": 3}, "text": {"field": "t"}}}
]
},
{
"width": 468, "height": 156,
"data": {"name": "C"},
"layer": [
{"mark": {"type": "line", "clip": true, "strokeWidth": 1.3},
 "encoding": {
  "x": {"field": "x", "type": "quantitative", "scale": {"domain": [-1, 3], "nice": false, "zero": false}, "axis": {"values": [-1, 0, 1, 2, 3], "title": "x (m)", "labelFlush": false, "labelOverlap": false, "labelExpr": "datum.value === 3 ? '3 × 10⁻⁴' : datum.value === -1 ? '-1' : format(datum.value, 'd')", "labelAlign": {"condition": {"test": "datum.value === 3", "value": "left"}, "value": "center"}, "labelOffset": {"condition": {"test": "datum.value === 3", "value": -5}, "value": 0}}},
  "y": {"field": "v", "type": "quantitative", "scale": {"domain": [0, 6.9], "nice": false}, "axis": {"values": [0, 5], "title": "error (N)", "titleX": -36}},
  "color": {"field": "m", "type": "nominal", "scale": {"domain": ["dipole", "quadrupole", "octupole"], "range": ["#0072BD", "#D95319", "#EDB120"]}},
  "strokeDash": {"field": "d", "type": "nominal", "scale": {"domain": ["60", "100", "150"], "range": [[1, 0], [14, 7], [14, 6, 2, 6]]}}
 }},
{"data": {"name": "electrodes"}, "mark": {"type": "rule", "strokeWidth": 5, "color": "#1a1a1a", "strokeCap": "butt"},
 "encoding": {"x": {"field": "x0", "type": "quantitative"}, "x2": {"field": "x1"}, "y": {"datum": 0}}},
{"data": {"values": [{"t": "Abs. error in magnitude"}]}, "mark": {"type": "text", "align": "center", "baseline": "middle", "dy": -15, "fontSize": 18, "color": "#262626"},
 "encoding": {"x": {"datum": 1}, "y": {"datum": 6.9}, "text": {"field": "t"}}},
{"data": {"values": [{"t": "C"}]}, "mark": {"type": "text", "align": "left", "baseline": "alphabetic", "dx": -80, "dy": -22, "fontSize": 26, "fontWeight": "bold", "color": "#111111"},
 "encoding": {"x": {"datum": -1}, "y": {"datum": 6.9}, "text": {"field": "t"}}},
{"data": {"values": [{"t": "× 10⁻¹¹"}]}, "mark": {"type": "text", "align": "left", "baseline": "bottom", "dx": -4, "dy": -2, "fontSize": 16, "color": "#262626"},
 "encoding": {"x": {"datum": -1}, "y": {"datum": 6.9}, "text": {"field": "t"}}}
]
},
{
"width": 468, "height": 156,
"data": {"name": "D"},
"layer": [
{"mark": {"type": "line", "clip": true, "strokeWidth": 1.3},
 "encoding": {
  "x": {"field": "x", "type": "quantitative", "scale": {"domain": [-1, 3], "nice": false, "zero": false}, "axis": {"values": [-1, 0, 1, 2, 3], "title": "x (m)", "labelFlush": false, "labelOverlap": false, "labelExpr": "datum.value === 3 ? '3 × 10⁻⁴' : datum.value === -1 ? '-1' : format(datum.value, 'd')", "labelAlign": {"condition": {"test": "datum.value === 3", "value": "left"}, "value": "center"}, "labelOffset": {"condition": {"test": "datum.value === 3", "value": -5}, "value": 0}}},
  "y": {"field": "v", "type": "quantitative", "scale": {"domain": [0, 0.05], "nice": false}, "axis": {"values": [0, 0.05], "format": ".2~f", "title": "error (rad)", "titleX": -36}},
  "color": {"field": "m", "type": "nominal", "scale": {"domain": ["dipole", "quadrupole", "octupole"], "range": ["#0072BD", "#D95319", "#EDB120"]}},
  "strokeDash": {"field": "d", "type": "nominal", "scale": {"domain": ["60", "100", "150"], "range": [[1, 0], [14, 7], [14, 6, 2, 6]]}}
 }},
{"data": {"name": "electrodes"}, "mark": {"type": "rule", "strokeWidth": 5, "color": "#1a1a1a", "strokeCap": "butt"},
 "encoding": {"x": {"field": "x0", "type": "quantitative"}, "x2": {"field": "x1"}, "y": {"datum": 0}}},
{"data": {"values": [{"t": "Abs. error in direction"}]}, "mark": {"type": "text", "align": "center", "baseline": "middle", "dy": -17, "fontSize": 18, "color": "#262626"},
 "encoding": {"x": {"datum": 1}, "y": {"datum": 0.05}, "text": {"field": "t"}}},
{"data": {"values": [{"t": "D"}]}, "mark": {"type": "text", "align": "left", "baseline": "alphabetic", "dx": -80, "dy": -22, "fontSize": 26, "fontWeight": "bold", "color": "#111111"},
 "encoding": {"x": {"datum": -1}, "y": {"datum": 0.05}, "text": {"field": "t"}}}
]
},
{
"width": 540, "height": 100,
"title": {"text": " ", "orient": "right", "offset": 50, "fontSize": 13},
"view": {"stroke": "#4d4d4d", "strokeWidth": 1.3},
"layer": [
{"data": {"name": "legendModels"},
 "encoding": {
  "x": {"field": "m", "type": "nominal", "scale": {"type": "point", "domain": ["dipole", "quadrupole", "octupole"], "padding": 0.55}, "axis": null},
  "y": {"datum": "model", "type": "nominal", "scale": {"type": "point", "domain": ["model", "depth"], "padding": 0.61}, "axis": null}
 },
 "layer": [
  {"mark": {"type": "point", "shape": "stroke", "size": 4356, "filled": false, "strokeWidth": 1.5, "opacity": 1, "xOffset": -43},
   "encoding": {"color": {"field": "m", "type": "nominal"}}},
  {"mark": {"type": "text", "align": "left", "baseline": "middle", "dx": -2, "fontSize": 17, "color": "#262626"},
   "encoding": {"text": {"field": "m"}}}
 ]},
{"data": {"name": "legendDepths"},
 "encoding": {
  "x": {"field": "label", "type": "nominal", "scale": {"type": "point", "domain": ["y=60 µm", "y=100 µm", "y=150 µm"], "padding": 0.6}, "axis": null},
  "y": {"datum": "depth", "type": "nominal", "axis": null}
 },
 "layer": [
  {"mark": {"type": "point", "shape": "stroke", "size": 4356, "filled": false, "strokeWidth": 1.5, "opacity": 1, "color": "#262626", "xOffset": -43},
   "encoding": {"strokeDash": {"field": "d", "type": "nominal"}}},
  {"mark": {"type": "text", "align": "left", "baseline": "middle", "dx": -2, "fontSize": 17, "color": "#262626"},
   "encoding": {"text": {"field": "label"}}}
 ]}
],
"resolve": {"scale": {"x": "independent"}}
}
],
"config": {
 "font": "Open Sans",
 "view": {"stroke": null},
 "legend": {"disable": true},
 "axis": {"labelFontSize": 17, "labelColor": "#262626", "titleFontSize": 18, "titleFontWeight": "normal", "titleColor": "#262626", "gridColor": "#e3e3e3", "domainColor": "#262626", "domainWidth": 1.2, "ticks": false, "labelPadding": 7, "titlePadding": 5}
}
}
